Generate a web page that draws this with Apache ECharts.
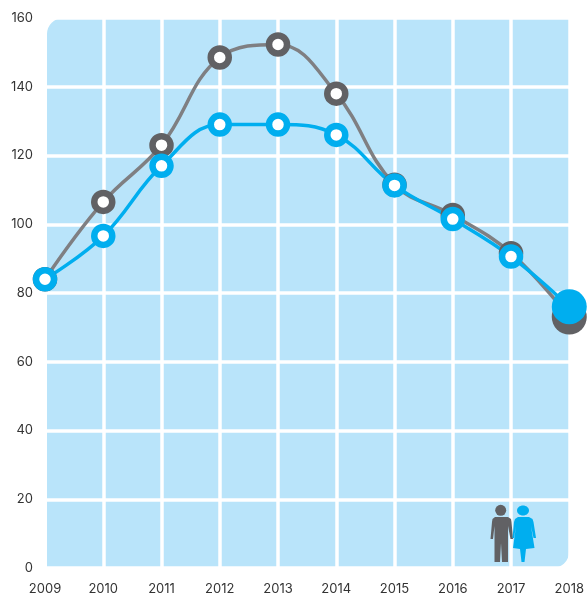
<!DOCTYPE html>
<html>
<head>
<meta charset="utf-8">
<style>
  html, body { margin: 0; padding: 0; background: #fff; }
  #chart { width: 587px; height: 596px; }
</style>
<script src="https://cdn.jsdelivr.net/npm/echarts@6/dist/echarts.min.js"></script>
</head>
<body>
<div id="chart"></div>
<script>
var years = ['2009', '2010', '2011', '2012', '2013', '2014', '2015', '2016', '2017', '2018'];
var men = [84, 106.5, 123, 148.5, 152.3, 138, 111.5, 102.7, 91.6, 73];
var women = [84, 96.6, 117, 129, 129, 126, 111.3, 101.5, 90.6, 76];

var panelColor = '#b9e4fa';
var greyLine = '#7f7f82';
var greyDot = '#616164';
var blue = '#00aeef';

// little people in the corner, outline
var manPoints = [[495, 517], [508, 517], [511, 519], [511.5, 522], [513, 539], [510.5, 539], [508, 526], [508, 562], [502, 562], [501, 543], [500, 562], [494.5, 562], [494.5, 526], [493, 539], [490.5, 539], [492, 522], [492.5, 519]];
var womanPoints = [[518, 517], [529, 517], [532.5, 519], [533.5, 522], [536, 538], [533.5, 538], [531, 526], [534.5, 548], [526, 549], [524.5, 562], [521.5, 562], [520, 549], [513, 548], [516, 526], [514, 538], [512.5, 538], [514, 522], [515, 519]];

function buildData(values, color) {
  return values.map(function (v, i) {
    if (i === values.length - 1) {
      return {value: v, symbolSize: 35, itemStyle: {color: color, borderColor: color, borderWidth: 0}};
    }
    return {value: v};
  });
}

function lineSeries(name, values, lineColor, dotColor) {
  return {
    name: name,
    type: 'line',
    data: buildData(values, dotColor),
    smooth: 0.4,
    clip: false,
    symbol: 'circle',
    symbolSize: 18,
    showAllSymbol: true,
    lineStyle: {color: lineColor, width: 3.5},
    itemStyle: {color: '#fff', borderColor: dotColor, borderWidth: 6.5, opacity: 1},
    emphasis: {disabled: true}
  };
}

var chart = echarts.init(document.getElementById('chart'), null, {renderer: 'canvas'});
chart.setOption({
  animation: false,
  textStyle: {fontFamily: 'Inter, sans-serif'},
  grid: {left: 45, right: 17, top: 18, bottom: 27.5, containLabel: false},
  graphic: [
    {type: 'rect', z: -10, shape: {x: 47, y: 18, width: 522, height: 550, r: [16, 0, 16, 0]}, style: {fill: panelColor}},
    {type: 'circle', z: 10, shape: {cx: 500.7, cy: 510.3, r: 5.5}, style: {fill: greyDot}},
    {type: 'polygon', z: 10, shape: {points: manPoints}, style: {fill: greyDot}},
    {type: 'ellipse', z: 10, shape: {cx: 523, cy: 510.5, rx: 6, ry: 5}, style: {fill: blue}},
    {type: 'polygon', z: 10, shape: {points: womanPoints}, style: {fill: blue}}
  ],
  xAxis: {
    type: 'category',
    data: years,
    boundaryGap: false,
    axisLine: {show: false},
    axisTick: {show: false},
    axisLabel: {color: '#333', fontSize: 13, margin: 15, interval: 0, hideOverlap: false},
    splitLine: {show: true, interval: 0, lineStyle: {color: '#fff', width: 3.5}}
  },
  yAxis: {
    type: 'value',
    min: 0,
    max: 160,
    interval: 20,
    axisLine: {show: false},
    axisTick: {show: false},
    axisLabel: {color: '#333', fontSize: 13, margin: 12},
    splitLine: {show: true, lineStyle: {color: '#fff', width: 3.5}}
  },
  series: [
    lineSeries('men', men, greyLine, greyDot),
    lineSeries('women', women, blue, blue)
  ]
});
</script>
</body>
</html>
